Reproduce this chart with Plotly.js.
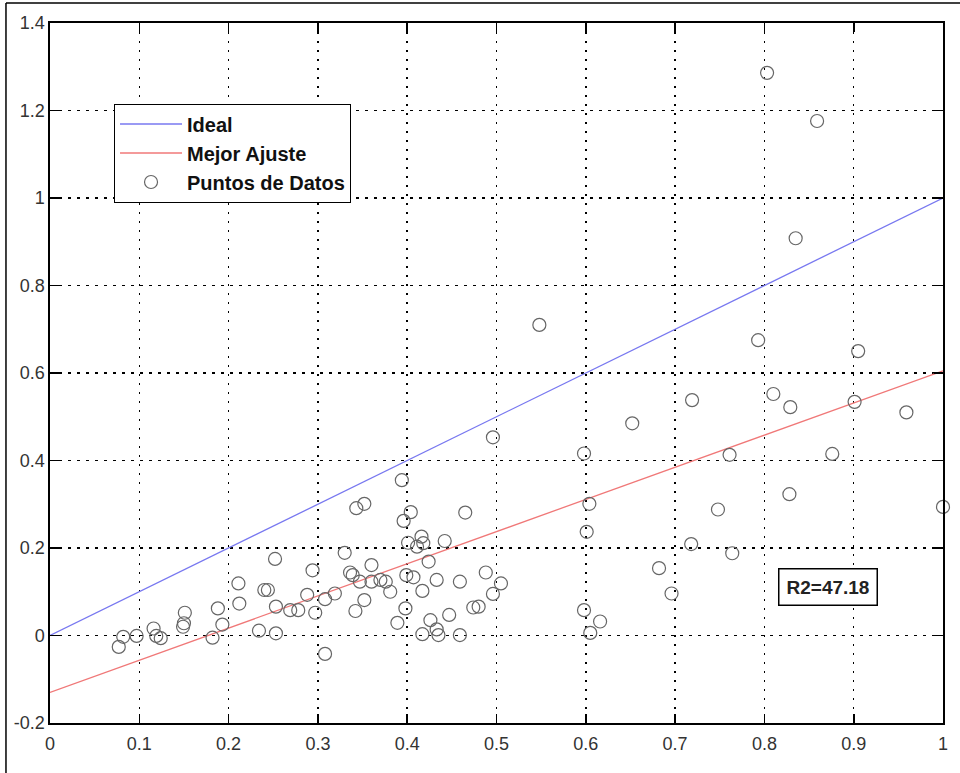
<!DOCTYPE html>
<html>
<head>
<meta charset="utf-8">
<script src="https://cdn.plot.ly/plotly-3.0.1.min.js"></script>
<style>
  html, body { margin: 0; padding: 0; background: #ffffff; }
  #chart { width: 960px; height: 773px; }
</style>
</head>
<body>
<div id="chart"></div>
<script>
// Measured vs. predicted values (scatter points)
const pointsX = [
  0.077, 0.082, 0.097, 0.116, 0.119, 0.124, 0.151, 0.150, 0.149, 0.182,
  0.188, 0.193, 0.211, 0.212, 0.234, 0.252, 0.240, 0.244, 0.253, 0.253,
  0.269, 0.278, 0.294, 0.288, 0.297, 0.308, 0.319, 0.308, 0.343, 0.352,
  0.330, 0.336, 0.339, 0.360, 0.352, 0.342, 0.347, 0.360, 0.370, 0.376,
  0.381, 0.394, 0.404, 0.396, 0.465, 0.401, 0.416, 0.418, 0.411, 0.442,
  0.424, 0.399, 0.407, 0.433, 0.459, 0.488, 0.505, 0.496, 0.417, 0.398,
  0.389, 0.474, 0.480, 0.447, 0.426, 0.417, 0.433, 0.435, 0.459, 0.496,
  0.548, 0.793, 0.905, 0.719, 0.810, 0.829, 0.901, 0.959, 0.652, 0.598,
  0.761, 0.876, 0.604, 0.828, 0.748, 1.000, 0.601, 0.718, 0.764, 0.682,
  0.696, 0.598, 0.616, 0.605, 0.803, 0.859, 0.835
];
const pointsY = [
  -0.026, -0.003, -0.001, 0.016, -0.001, -0.006, 0.052, 0.028, 0.020, -0.005,
  0.062, 0.025, 0.119, 0.073, 0.011, 0.175, 0.104, 0.104, 0.066, 0.005,
  0.058, 0.058, 0.149, 0.093, 0.052, 0.083, 0.096, -0.042, 0.291, 0.301,
  0.189, 0.144, 0.138, 0.161, 0.081, 0.056, 0.123, 0.123, 0.127, 0.123,
  0.100, 0.355, 0.282, 0.262, 0.281, 0.212, 0.226, 0.211, 0.203, 0.216,
  0.169, 0.138, 0.133, 0.127, 0.123, 0.144, 0.119, 0.095, 0.102, 0.062,
  0.029, 0.064, 0.066, 0.047, 0.035, 0.003, 0.014, 0.001, 0.001, 0.453,
  0.710, 0.675, 0.650, 0.538, 0.552, 0.522, 0.534, 0.510, 0.485, 0.416,
  0.413, 0.415, 0.301, 0.323, 0.288, 0.294, 0.237, 0.209, 0.188, 0.154,
  0.096, 0.058, 0.032, 0.006, 1.286, 1.176, 0.908
];

// Reference line y = x
const idealX = [0, 1];
const idealY = [0, 1];

// Least-squares fit line
const fitX = [0, 1];
const fitY = [-0.13, 0.605];

// Tick labels
const xTicks = [0, 0.1, 0.2, 0.3, 0.4, 0.5, 0.6, 0.7, 0.8, 0.9, 1];
const xTickText = ['0', '0.1', '0.2', '0.3', '0.4', '0.5', '0.6', '0.7', '0.8', '0.9', '1'];
const yTicks = [-0.2, 0, 0.2, 0.4, 0.6, 0.8, 1, 1.2, 1.4];
const yTickText = ['-0.2', '0', '0.2', '0.4', '0.6', '0.8', '1', '1.2', '1.4'];

// Legend names and fit statistic
const seriesNames = ['Ideal', 'Mejor Ajuste', 'Puntos de Datos'];
const r2Label = 'R2=47.18';
const r2Pos = [0.8715, 0.111];

const FONT = 'Liberation Sans, Arial, Helvetica, sans-serif';

const traces = [
  {
    x: idealX, y: idealY, type: 'scatter', mode: 'lines',
    name: seriesNames[0], legendgroup: 'a',
    line: { color: '#7878f0', width: 1.3 },
    hoverinfo: 'skip'
  },
  {
    x: fitX, y: fitY, type: 'scatter', mode: 'lines',
    name: seriesNames[1], legendgroup: 'b',
    line: { color: '#f07878', width: 1.3 },
    hoverinfo: 'skip'
  },
  {
    x: pointsX, y: pointsY, type: 'scatter', mode: 'markers',
    name: seriesNames[2], legendgroup: 'c',
    marker: {
      symbol: 'circle-open', size: 13, color: '#666',
      line: { color: '#666', width: 1.2 }
    },
    cliponaxis: false
  }
];

const axisCommon = {
  showline: true, linecolor: '#000', linewidth: 1.6,
  mirror: 'ticks', ticks: 'inside', ticklen: 9, tickwidth: 1.6, tickcolor: '#000',
  showgrid: true, gridcolor: '#000', gridwidth: 1.5,
  zeroline: false,
  tickfont: { family: FONT, size: 18, color: '#333' }
};

const layout = {
  width: 960, height: 773,
  margin: { l: 50, r: 17, t: 23, b: 50 },
  paper_bgcolor: '#ffffff', plot_bgcolor: '#ffffff',
  showlegend: true,
  xaxis: Object.assign({}, axisCommon, {
    range: [0, 1], tickmode: 'array', tickvals: xTicks, ticktext: xTickText,
    griddash: '2px,7px', ticklabelstandoff: 4
  }),
  yaxis: Object.assign({}, axisCommon, {
    range: [-0.2, 1.4], tickmode: 'array', tickvals: yTicks, ticktext: yTickText,
    griddash: '3px,6px', ticklabelstandoff: 0
  }),
  legend: {
    x: 0.0717, y: 0.885, xanchor: 'left', yanchor: 'top',
    bgcolor: '#ffffff', bordercolor: '#000', borderwidth: 1,
    font: { family: FONT, size: 20, color: '#111', weight: 'bold' },
    itemwidth: 62, tracegroupgap: 0
  },
  annotations: [{
    x: r2Pos[0], y: r2Pos[1], xref: 'x', yref: 'y',
    text: r2Label, showarrow: false,
    font: { family: FONT, size: 19, color: '#222', weight: 'bold' },
    bordercolor: '#000', borderwidth: 1.5, borderpad: 7, bgcolor: '#ffffff'
  }],
  shapes: [
    { type: 'line', xref: 'paper', yref: 'paper', x0: -0.0493, x1: 1.02, y0: 1.0286, y1: 1.0286,
      line: { color: '#000', width: 1.5 } },
    { type: 'line', xref: 'paper', yref: 'paper', x0: -0.0493, x1: -0.0493, y0: 1.0286, y1: -0.08,
      line: { color: '#000', width: 1.5 } }
  ]
};

Plotly.newPlot('chart', traces, layout, { displayModeBar: false, staticPlot: true });
</script>
</body>
</html>
